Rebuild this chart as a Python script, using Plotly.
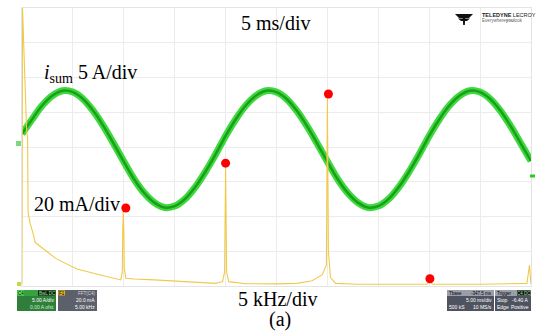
import plotly.graph_objects as go

# ---- data ----
time_ms = list(range(0, 51))
i_sum_A = [1.9, 4.0, 6.0, 7.4, 8.1, 7.9, 6.9, 5.2, 3.0, 0.5,
           -2.1, -4.6, -6.6, -8.0, -8.7, -8.5, -7.5, -5.8, -3.6, -1.1,
           1.6, 4.0, 6.0, 7.4, 8.1, 7.9, 6.9, 5.2, 3.0, 0.5,
           -2.1, -4.6, -6.6, -8.0, -8.7, -8.5, -7.5, -5.8, -3.6, -1.1,
           1.6, 4.0, 6.0, 7.4, 8.1, 7.9, 6.9, 5.2, 3.0, 0.5, -2.0]

freq_kHz = [0.0, 0.05, 0.45, 0.55, 0.6, 0.8, 1.1, 1.3, 2.0, 3.3, 5.4, 6.5, 8.1, 9.7,
            9.85, 9.9, 9.95, 10.0, 10.05, 10.2, 11.0, 13.0, 16.0, 19.0,
            19.7, 19.9, 20.0, 20.1, 20.3, 22.0, 25.0, 27.0, 28.5, 29.5,
            29.9, 30.0, 30.1, 30.3, 30.8, 33.0, 37.0, 39.8, 40.05, 40.3,
            45.0, 49.6, 49.85, 50.0]
fft_mA = [1.0, 160, 90, 85, 42, 36, 30, 25, 21.9, 15.9, 9.8, 8.0, 5.8, 3.5,
          8, 32, 43, 33, 10, 4.5, 4.0, 3.5, 2.5, 1.5,
          2.5, 8, 68, 8, 2.5, 1.3, 1.2, 1.5, 3.0, 6.5,
          12, 108, 20, 5, 1.5, 1.0, 1.0, 1.0, 3.5, 1.0,
          1.0, 1.5, 12, 1.0]

peak_freq_kHz = [10.2, 20.0, 30.1, 40.07]
peak_mA = [44.9, 70.7, 110.5, 4.2]

# ---- layout geometry (pixels) ----
W, H = 548, 332
L, R, T, B = 22, 531, 8, 286


def px(x):
    return (x - L) / (R - L)


def py(y):
    return (B - y) / (B - T)


SERIF = "Liberation Serif, Times New Roman, serif"
SANS = "Liberation Sans, Arial, sans-serif"

fig = go.Figure()

# FFT trace (yellow)
fig.add_trace(go.Scatter(x=freq_kHz, y=fft_mA, xaxis="x2", yaxis="y2", mode="lines",
                         line=dict(color="#f1c94a", width=1.1), hoverinfo="skip"))
# i_sum trace (green noisy band)
fig.add_trace(go.Scatter(x=time_ms, y=i_sum_A, mode="lines",
                         line=dict(color="#3fd83f", width=7, shape="spline", smoothing=1.0),
                         hoverinfo="skip"))
fig.add_trace(go.Scatter(x=time_ms, y=i_sum_A, mode="lines",
                         line=dict(color="#18a018", width=2.5, shape="spline", smoothing=1.0),
                         hoverinfo="skip"))
# red markers
fig.add_trace(go.Scatter(x=peak_freq_kHz, y=peak_mA, xaxis="x2", yaxis="y2", mode="markers",
                         marker=dict(color="#ff0000", size=9), hoverinfo="skip"))

grid = "#ececec"
fig.update_layout(
    width=W, height=H,
    margin=dict(l=L, r=W - R, t=T, b=H - B),
    paper_bgcolor="white", plot_bgcolor="white",
    showlegend=False,
    xaxis=dict(range=[0, 50], dtick=5, showgrid=True, gridcolor=grid, gridwidth=1,
               showticklabels=False, zeroline=False, showline=True, linecolor="#e4e4e4",
               mirror=True, ticks=""),
    yaxis=dict(range=[-20, 20], dtick=5, showgrid=True, gridcolor=grid, gridwidth=1,
               showticklabels=False, zeroline=False, showline=True, linecolor="#e4e4e4",
               mirror=True, ticks=""),
    xaxis2=dict(range=[0, 50], overlaying="x", visible=False),
    yaxis2=dict(range=[0, 160], overlaying="y", visible=False),
)

ann = []
shapes = []


def text(x, y, s, size, family=SERIF, color="black", xanchor="center", yanchor="middle"):
    ann.append(dict(x=px(x), y=py(y), xref="paper", yref="paper", text=s, showarrow=False,
                    font=dict(size=size, family=family, color=color),
                    xanchor=xanchor, yanchor=yanchor, borderpad=0))


def box(x0, y0, x1, y1, fill, line=None):
    shapes.append(dict(type="rect", xref="paper", yref="paper",
                       x0=px(x0), x1=px(x1), y0=py(y1), y1=py(y0),
                       fillcolor=fill, line=dict(width=0 if line is None else 0.6,
                                                 color=line or fill), layer="above"))


def poly(points, fill):
    path = "M " + " L ".join("%f %f" % (px(a), py(b)) for a, b in points) + " Z"
    shapes.append(dict(type="path", xref="paper", yref="paper", path=path,
                       fillcolor=fill, line=dict(width=0), layer="above"))


# main labels
text(275, 23, "5 ms/div", 20)
text(43, 73, "<i>i</i><sub>sum</sub> 5 A/div", 20, xanchor="left")
text(33, 204, "20 mA/div", 20, xanchor="left")
text(277, 299, "5 kHz/div", 20)
text(280, 332, "(a)", 20, yanchor="bottom")

# logo (bird + name)
poly([(455, 14), (473, 14), (469, 18), (459, 18)], "#111111")
poly([(458, 18.5), (470, 18.5), (467, 21), (461, 21)], "#111111")
poly([(462.5, 14), (465.5, 14), (464.8, 25), (463.2, 25)], "#111111")
text(481, 15, "<b>TELEDYNE</b> LECROY", 5.5, family=SANS, color="#222", xanchor="left")
text(481, 20.5, "Everywhere<b>you</b>look", 4.5, family=SANS, color="#666", xanchor="left")

# channel markers
box(16, 141, 21, 146, "#7fd87f")
box(530, 174.5, 535, 177.5, "#22cc22")
box(17, 282, 21, 286, "#c8d840")

# bottom-left info boxes
box(17, 290, 56, 311, "#2f7f3a")
box(17, 290, 56, 296, "#37a33f")
box(17.5, 290.5, 24, 295.5, "#5fe05f")
box(38, 290.5, 55.5, 295.5, "#111111")
text(20.8, 293, "C4", 4.5, family=SANS, color="black")
text(47, 293, "BwL DC", 4.5, family=SANS, color="#9be89b")
text(55, 300, "5.00 A/div", 5, family=SANS, color="white", xanchor="right")
text(55, 306.5, "0.00 A ofst", 5, family=SANS, color="#c9f0c9", xanchor="right")

box(58, 290, 97, 311, "#5c606b")
box(58.5, 290.5, 65, 295.5, "#e8b020")
text(61.8, 293, "F1", 4.5, family=SANS, color="black")
text(96, 293, "FFT(C4)", 4.5, family=SANS, color="#d8d8d8", xanchor="right")
text(96, 300, "20.0 mA", 5, family=SANS, color="white", xanchor="right")
text(96, 306.5, "5.00 kHz", 5, family=SANS, color="white", xanchor="right")

# bottom-right info boxes
box(447, 290, 494, 311, "#4f5360")
box(447, 290, 494, 296, "#9a9eaa")
text(448, 293, "Tbase", 4.5, family=SANS, color="black", xanchor="left")
text(493, 293, "-347.5 ms", 4.5, family=SANS, color="black", xanchor="right")
text(493, 300, "5.00 ms/div", 5, family=SANS, color="white", xanchor="right")
text(448, 306.5, "500 kS", 5, family=SANS, color="white", xanchor="left")
text(493, 306.5, "10 MS/s", 5, family=SANS, color="white", xanchor="right")

box(495, 290, 531, 311, "#4f5360")
box(495, 290, 531, 296, "#9a9eaa")
box(517, 290.5, 530.5, 295.5, "#111111")
text(496, 293, "Trigger", 4.5, family=SANS, color="black", xanchor="left")
text(524, 293, "C4 DC", 4.5, family=SANS, color="#9be89b")
text(496, 300, "Stop", 5, family=SANS, color="white", xanchor="left")
text(530, 300, "-6.40 A", 5, family=SANS, color="white", xanchor="right")
text(496, 306.5, "Edge", 5, family=SANS, color="white", xanchor="left")
text(530, 306.5, "Positive", 5, family=SANS, color="white", xanchor="right")

fig.update_layout(annotations=ann, shapes=shapes)

fig.write_html("out.html", config={"displayModeBar": False},
               post_script="document.body.style.margin='0';document.body.style.padding='0';")
